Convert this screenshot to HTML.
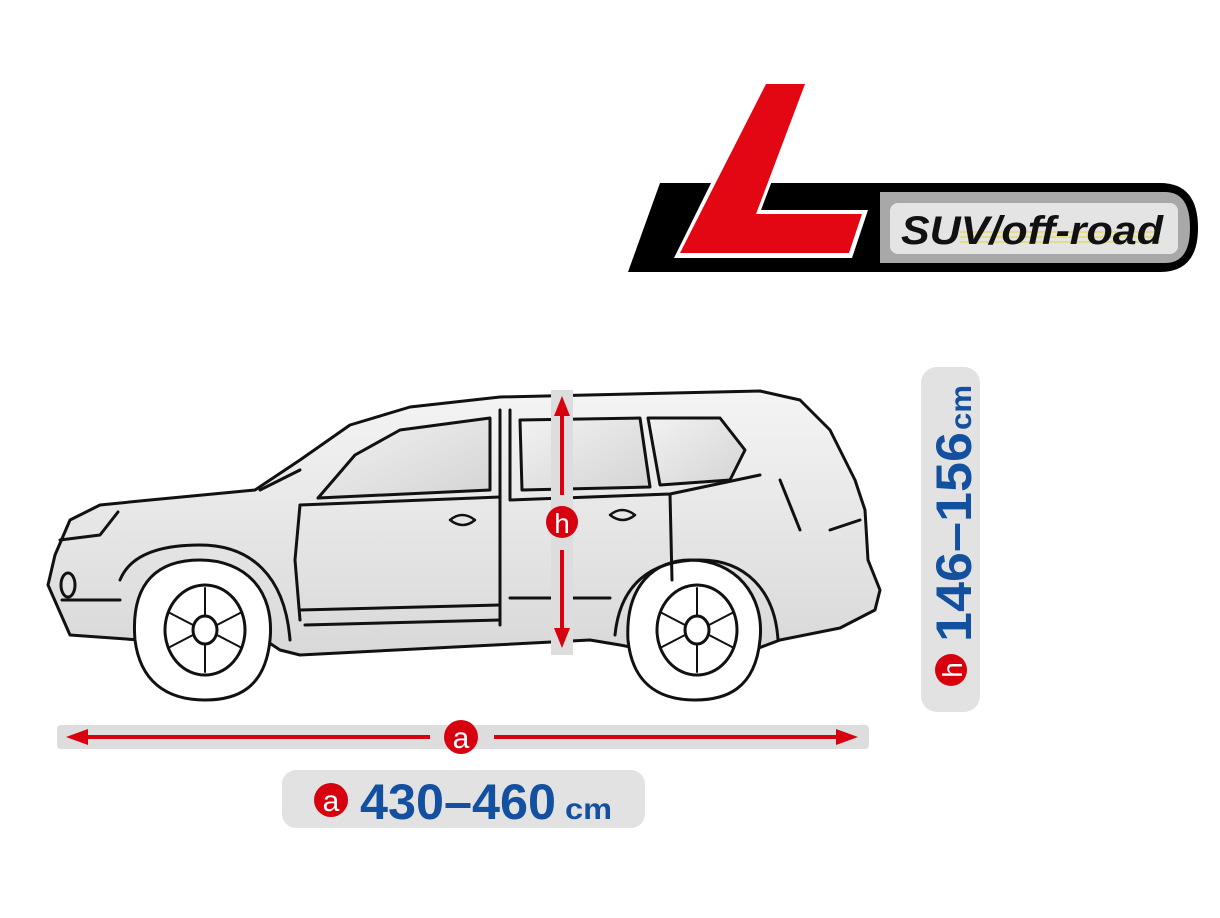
<!DOCTYPE html>
<html><head><meta charset="utf-8"><style>
html,body{margin:0;padding:0;background:#fff;width:1220px;height:918px;overflow:hidden}
svg{display:block}
</style></head><body>
<svg width="1220" height="918" viewBox="0 0 1220 918" xmlns="http://www.w3.org/2000/svg">
<defs>
<linearGradient id="body" x1="0" y1="0" x2="0" y2="1">
<stop offset="0" stop-color="#f4f4f4"/><stop offset="1" stop-color="#d8d8d8"/>
</linearGradient>
<linearGradient id="win" x1="0" y1="0" x2="1" y2="1">
<stop offset="0" stop-color="#f2f2f2"/><stop offset="1" stop-color="#d4d4d4"/>
</linearGradient>
</defs>
<!-- Logo -->
<path d="M660,183 L1160,183 Q1198,183 1198,228 Q1198,272 1160,272 L628,272 Z" fill="#000"/>
<path d="M880,192 L1165,192 Q1190,192 1190,228 Q1190,263 1165,263 L880,263 Z" fill="#a8a8a8"/>
<rect x="890" y="203" width="288" height="51" rx="8" fill="#e4e4e4"/>
<g stroke="#e8d84a" stroke-width="1.5" opacity="0.8">
<line x1="960" y1="232" x2="1160" y2="232"/><line x1="960" y1="237" x2="1160" y2="237"/><line x1="960" y1="242" x2="1160" y2="242"/>
</g>
<text x="901" y="244" font-family="Liberation Sans, sans-serif" font-weight="bold" font-style="italic" font-size="40" fill="#111" textLength="262" lengthAdjust="spacingAndGlyphs">SUV/off-road</text>
<path d="M762,80 L810,80 L761,210 L868,210 L852,258 L674,258 Z" fill="#fff"/>
<path d="M766,84 L805,84 L756,214 L862,214 L849,253 L680,253 Z" fill="#e30613"/>

<!-- Car -->
<g stroke="#111" stroke-width="3" stroke-linejoin="round" stroke-linecap="round" fill="none">
<path fill="url(#body)" d="M70,635 L48,585 L55,555 L70,520 L100,505 L150,500 L255,490 L300,460 L350,425 L410,407 L500,397 L760,391 L800,400 L830,430 L855,480 L865,510 L868,560 L880,590 L875,610 L840,628 L780,640 L740,655 L700,660 L620,645 L590,640 L300,655 L280,650 L265,640 L140,640 Z"/>
<path fill="#fff" d="M135,640 C130,580 160,560 200,560 C245,560 275,590 270,640 C265,690 235,700 205,700 C165,700 140,680 135,640 Z"/>
<path fill="#fff" d="M628,640 C625,585 655,560 690,560 C735,560 765,595 760,640 C755,690 725,700 695,700 C655,700 632,680 628,640 Z"/>
<ellipse cx="205" cy="630" rx="40" ry="45"/>
<ellipse cx="697" cy="630" rx="40" ry="45"/>
<ellipse cx="205" cy="630" rx="12" ry="14"/>
<ellipse cx="697" cy="630" rx="12" ry="14"/>
<g stroke-width="2">
<path d="M205,588 L205,615 M205,645 L205,672 M168,612 L193,625 M217,635 L242,648 M168,648 L193,635 M217,625 L242,612"/>
<path d="M697,588 L697,615 M697,645 L697,672 M660,612 L685,625 M709,635 L734,648 M660,648 L685,635 M709,625 L734,612"/>
</g>
<path d="M120,580 C130,555 160,545 200,545 C250,545 285,575 290,640"/>
<path d="M615,635 C620,585 650,560 700,560 C745,560 775,590 778,640"/>
<path fill="url(#win)" d="M318,498 L355,455 L400,430 L490,418 L490,490 Z"/>
<path fill="url(#win)" d="M520,420 L640,418 L650,487 L522,490 Z"/>
<path fill="url(#win)" d="M648,418 L720,418 L745,450 L730,480 L660,485 Z"/>
<path d="M300,505 L295,560 L300,620 M500,410 L500,625 M510,410 L510,500 L670,494 L760,475 M670,494 L672,580"/>
<path d="M300,505 L500,497 M300,610 L500,605 M305,625 L500,620 M510,598 L610,598"/>
<path d="M60,540 L100,535 L118,512 M62,600 L120,600 M300,470 L260,490 M780,480 L800,530 M830,530 L860,520"/>
<ellipse cx="68" cy="585" rx="7" ry="12"/>
<path d="M450,520 q12,-10 25,0 q-12,10 -25,0 M610,515 q12,-10 25,0 q-12,10 -25,0" stroke-width="2.5"/>
</g>

<!-- Height marker -->
<rect x="551" y="390" width="22" height="265" fill="#ddd"/>
<line x1="562" y1="410" x2="562" y2="495" stroke="#d7000f" stroke-width="4"/>
<line x1="562" y1="550" x2="562" y2="635" stroke="#d7000f" stroke-width="4"/>
<path d="M562,396 L554,416 L570,416 Z M562,648 L554,628 L570,628 Z" fill="#d7000f"/>
<circle cx="562" cy="522" r="16" fill="#d7000f"/>
<text x="562" y="533" text-anchor="middle" font-family="Liberation Sans, sans-serif" font-size="28" fill="#fff">h</text>

<!-- Length marker -->
<rect x="57" y="725" width="812" height="24" rx="4" fill="#ddd"/>
<line x1="80" y1="737" x2="430" y2="737" stroke="#d7000f" stroke-width="4"/>
<line x1="494" y1="737" x2="845" y2="737" stroke="#d7000f" stroke-width="4"/>
<path d="M66,737 L88,729 L88,745 Z M858,737 L836,729 L836,745 Z" fill="#d7000f"/>
<circle cx="461" cy="737" r="17" fill="#d7000f"/>
<text x="461" y="748" text-anchor="middle" font-family="Liberation Sans, sans-serif" font-size="30" fill="#fff">a</text>

<!-- Bottom label -->
<rect x="282" y="770" width="363" height="58" rx="14" fill="#e2e2e2"/>
<circle cx="331" cy="800" r="17" fill="#d7000f"/>
<text x="331" y="811" text-anchor="middle" font-family="Liberation Sans, sans-serif" font-size="30" fill="#fff">a</text>
<text x="360" y="819" font-family="Liberation Sans, sans-serif" font-weight="bold" font-size="50" fill="#1450a0" textLength="196" lengthAdjust="spacingAndGlyphs">430–460</text>
<text x="565" y="819" font-family="Liberation Sans, sans-serif" font-weight="bold" font-size="30" fill="#1450a0" textLength="47" lengthAdjust="spacingAndGlyphs">cm</text>

<!-- Right label -->
<rect x="921" y="367" width="59" height="345" rx="16" fill="#e2e2e2"/>
<circle cx="951" cy="670" r="16" fill="#d7000f"/>
<text x="0" y="0" transform="translate(962,670) rotate(-90)" text-anchor="middle" font-family="Liberation Sans, sans-serif" font-size="28" fill="#fff">h</text>
<text transform="translate(971,642) rotate(-90)" font-family="Liberation Sans, sans-serif" font-weight="bold" font-size="50" fill="#1450a0" textLength="210" lengthAdjust="spacingAndGlyphs">146–156</text>
<text transform="translate(971,430) rotate(-90)" font-family="Liberation Sans, sans-serif" font-weight="bold" font-size="30" fill="#1450a0" textLength="45" lengthAdjust="spacingAndGlyphs">cm</text>
</svg>
</body></html>
